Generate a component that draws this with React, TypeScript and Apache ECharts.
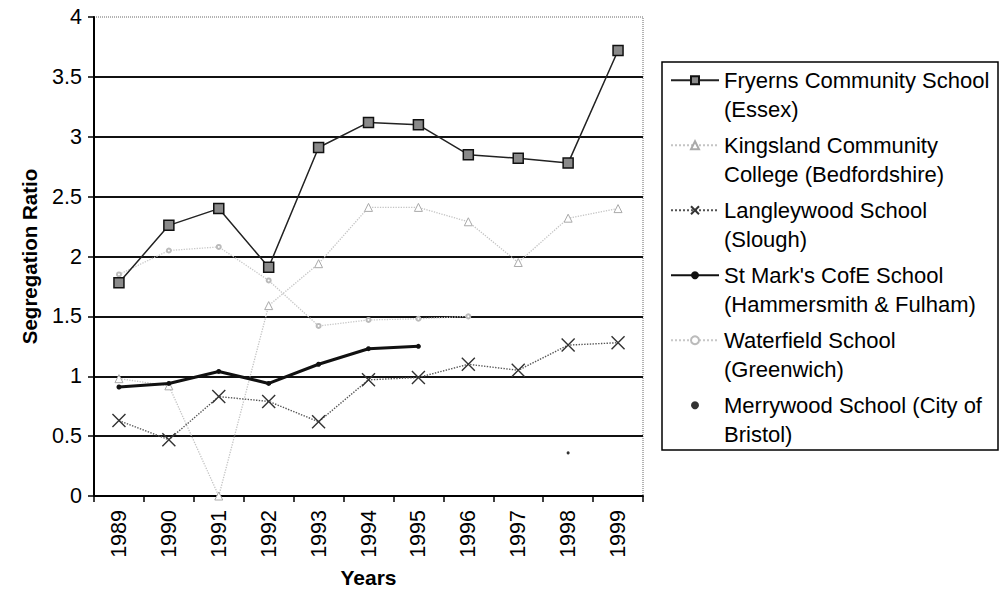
import React, { useEffect, useRef } from "react";
import * as echarts from "echarts";

const years = ["1989", "1990", "1991", "1992", "1993", "1994", "1995", "1996", "1997", "1998", "1999"];
const yTicks = [0, 0.5, 1, 1.5, 2, 2.5, 3, 3.5, 4];

const fryerns = [1.78, 2.26, 2.4, 1.91, 2.91, 3.12, 3.1, 2.85, 2.82, 2.78, 3.72];
const kingsland = [0.98, 0.92, 0.0, 1.59, 1.94, 2.41, 2.41, 2.29, 1.95, 2.32, 2.4];
const langleywood = [0.63, 0.47, 0.83, 0.79, 0.62, 0.97, 0.99, 1.1, 1.05, 1.26, 1.28];
const stMarks = [0.91, 0.94, 1.04, 0.94, 1.1, 1.23, 1.25, null, null, null, null];
const waterfield = [1.85, 2.05, 2.08, 1.8, 1.42, 1.47, 1.48, 1.5, null, null, null];
const merrywood = [null, null, null, null, null, null, null, null, null, 0.36, null];

const seriesNames = [
  "Fryerns Community School (Essex)",
  "Kingsland Community College (Bedfordshire)",
  "Langleywood School (Slough)",
  "St Mark's CofE School (Hammersmith & Fulham)",
  "Waterfield School (Greenwich)",
  "Merrywood School (City of Bristol)",
];
const legendLabels = [
  "Fryerns Community School\n(Essex)",
  "Kingsland Community\nCollege (Bedfordshire)",
  "Langleywood School\n(Slough)",
  "St Mark's CofE School\n(Hammersmith & Fulham)",
  "Waterfield School\n(Greenwich)",
  "Merrywood School (City of\nBristol)",
];

const FONT = "'Liberation Sans', Arial, sans-serif";

export default function App() {
  const ref = useRef<HTMLDivElement>(null);
  useEffect(() => {
    if (!ref.current) return;
    const chart = echarts.init(ref.current, null, { renderer: "svg" });
    const option: any = {
      animation: false,
      backgroundColor: "#fff",
      textStyle: { fontFamily: FONT },
      grid: {
        left: 94,
        right: 356,
        top: 17,
        bottom: 97,
        show: true,
        borderColor: "#666",
        borderWidth: 1,
        borderType: "dotted",
      },
      legend: {
        orient: "vertical",
        left: 670,
        top: 36,
        padding: 0,
        itemWidth: 48,
        itemHeight: 10,
        itemGap: -23.5,
        selectedMode: false,
        data: seriesNames,
        formatter: (name: string) => " \n" + legendLabels[seriesNames.indexOf(name)],
        textStyle: {
          fontSize: 22,
          lineHeight: 29.5,
          color: "#000",
          fontFamily: FONT,
        },
      },
      graphic: [
        {
          type: "rect",
          shape: { x: 662, y: 62, width: 336, height: 388 },
          style: { fill: "none", stroke: "#000", lineWidth: 1.5 },
        },
      ],
      xAxis: {
        type: "category",
        data: years,
        boundaryGap: true,
        axisLine: { show: true, lineStyle: { color: "#000", width: 2 } },
        axisTick: { show: true, length: 6, lineStyle: { color: "#000", width: 1.5 } },
        axisLabel: { rotate: 90, fontSize: 21.5, color: "#000", margin: 14, fontFamily: FONT },
        name: "Years",
        nameLocation: "middle",
        nameGap: 71,
        nameTextStyle: { fontSize: 21, fontWeight: "bold", color: "#000", fontFamily: FONT },
        splitLine: { show: false },
      },
      yAxis: {
        type: "value",
        min: yTicks[0],
        max: yTicks[yTicks.length - 1],
        interval: 0.5,
        axisLine: { show: true, lineStyle: { color: "#000", width: 2 } },
        axisTick: { show: true, length: 6, lineStyle: { color: "#000", width: 1.5 } },
        axisLabel: { fontSize: 21.5, color: "#000", margin: 12, fontFamily: FONT },
        splitLine: { show: true, showMaxLine: false, lineStyle: { color: "#111", width: 2 } },
        name: "Segregation Ratio",
        nameLocation: "middle",
        nameGap: 54,
        nameTextStyle: { fontSize: 20.5, fontWeight: "bold", color: "#000", fontFamily: FONT },
      },
      series: [
        {
          name: seriesNames[0],
          type: "line",
          data: fryerns,
          symbol: "rect",
          symbolSize: 10,
          lineStyle: { color: "#222", width: 1.5 },
          itemStyle: { color: "#8a8a8a", borderColor: "#111", borderWidth: 1.5 },
          z: 6,
        },
        {
          name: seriesNames[1],
          type: "line",
          data: kingsland,
          symbol: "triangle",
          symbolSize: 8,
          lineStyle: { color: "#c4c4c4", width: 1.3, type: "dotted" },
          itemStyle: { color: "#fff", borderColor: "#aaa", borderWidth: 1 },
          z: 3,
        },
        {
          name: seriesNames[2],
          type: "line",
          data: langleywood,
          symbol: "path://M0,0L10,10M10,0L0,10",
          symbolSize: 13,
          lineStyle: { color: "#555", width: 1.4, type: "dotted" },
          itemStyle: { color: "none", borderColor: "#333", borderWidth: 1.4 },
          z: 5,
        },
        {
          name: seriesNames[3],
          type: "line",
          data: stMarks,
          symbol: "circle",
          symbolSize: 5,
          lineStyle: { color: "#111", width: 3 },
          itemStyle: { color: "#111" },
          z: 7,
        },
        {
          name: seriesNames[4],
          type: "line",
          data: waterfield,
          symbol: "emptyCircle",
          symbolSize: 4,
          lineStyle: { color: "#c8c8c8", width: 1.3, type: "dotted" },
          itemStyle: { color: "#bbb" },
          z: 3,
        },
        {
          name: seriesNames[5],
          type: "line",
          data: merrywood,
          symbol: "circle",
          symbolSize: 3,
          lineStyle: { width: 0, color: "#fff" },
          itemStyle: { color: "#333" },
          z: 3,
        },
      ],
    };
    chart.setOption(option);
    return () => chart.dispose();
  }, []);
  return <div ref={ref} style={{ width: 999, height: 593, position: "absolute", left: 0, top: 0 }} />;
}
